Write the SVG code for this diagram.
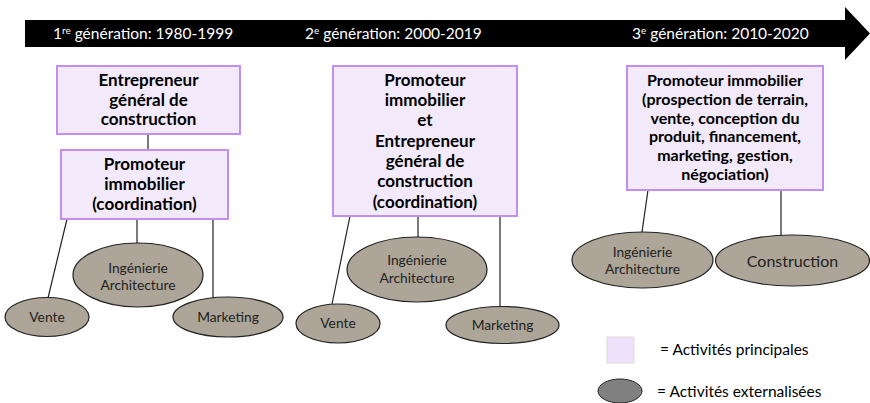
<svg xmlns="http://www.w3.org/2000/svg" width="870" height="403" viewBox="0 0 870 403">
  <style>
    text { font-family: "Lato", "Open Sans", "DejaVu Sans", sans-serif; fill: #000; }
    .hdr { font-size: 15.5px; fill: #fff; }
    .hdr tspan.sup { font-size: 10px; }
    .box { fill: #F2E9FA; stroke: #C48EEF; stroke-width: 2; }
    .bt { font-size: 17px; font-weight: bold; text-anchor: middle; }
    .bt3 { font-size: 16px; font-weight: bold; text-anchor: middle; }
    .ell { fill: #ADA597; stroke: #222; stroke-width: 1.2; }
    .et { font-size: 13.8px; text-anchor: middle; fill: #222; }
    .conn line { stroke: #222; stroke-width: 1.2; }
    .leg { font-size: 15.5px; }
  </style>

  <!-- timeline arrow -->
  <g id="timeline">
    <polygon points="25,20 845,20 845,7 870,33.5 845,60 845,47 25,47" fill="#000"/>
    <text class="hdr" x="53" y="39">1<tspan class="sup" dy="-5">re</tspan><tspan dy="5"> génération: 1980-1999</tspan></text>
    <text class="hdr" x="305" y="39">2<tspan class="sup" dy="-5">e</tspan><tspan dy="5"> génération: 2000-2019</tspan></text>
    <text class="hdr" x="632" y="39">3<tspan class="sup" dy="-5">e</tspan><tspan dy="5"> génération: 2010-2020</tspan></text>
  </g>

  <!-- connectors -->
  <g id="connectors" class="conn">
    <line x1="148" y1="134" x2="148" y2="150"/>
    <line x1="67" y1="219" x2="48" y2="298"/>
    <line x1="137" y1="219" x2="137" y2="243"/>
    <line x1="213" y1="219" x2="213" y2="298"/>
    <line x1="350" y1="216" x2="332" y2="304"/>
    <line x1="418" y1="216" x2="418" y2="237"/>
    <line x1="500" y1="216" x2="500" y2="307"/>
    <line x1="648" y1="190" x2="642" y2="232"/>
    <line x1="781" y1="190" x2="781" y2="235"/>
  </g>

  <!-- 1st generation -->
  <g id="entrepreneur1">
    <rect class="box" x="57" y="66" width="183" height="68"/>
    <text class="bt" x="148.5" y="86">Entrepreneur</text>
    <text class="bt" x="148.5" y="106">général de</text>
    <text class="bt" x="148.5" y="125">construction</text>
  </g>
  <g id="promoteur1">
    <rect class="box" x="61" y="150" width="167" height="69"/>
    <text class="bt" x="144.5" y="170">Promoteur</text>
    <text class="bt" x="144.5" y="190">immobilier</text>
    <text class="bt" x="144.5" y="210">(coordination)</text>
  </g>
  <g id="ingenierie1">
    <ellipse class="ell" cx="138" cy="275" rx="65" ry="32"/>
    <text class="et" x="138" y="273">Ingénierie</text>
    <text class="et" x="138" y="290">Architecture</text>
  </g>
  <g id="vente1">
    <ellipse class="ell" cx="47" cy="317" rx="42" ry="19.5"/>
    <text class="et" x="47" y="322">Vente</text>
  </g>
  <g id="marketing1">
    <ellipse class="ell" cx="228" cy="317" rx="55" ry="20"/>
    <text class="et" x="228" y="322">Marketing</text>
  </g>

  <!-- 2nd generation -->
  <g id="promoteur2">
    <rect class="box" x="333" y="66" width="184" height="150"/>
    <text class="bt" x="425" y="86">Promoteur</text>
    <text class="bt" x="425" y="106">immobilier</text>
    <text class="bt" x="425" y="126">et</text>
    <text class="bt" x="425" y="147">Entrepreneur</text>
    <text class="bt" x="425" y="167">général de</text>
    <text class="bt" x="425" y="187">construction</text>
    <text class="bt" x="425" y="208">(coordination)</text>
  </g>
  <g id="ingenierie2">
    <ellipse class="ell" cx="417" cy="269.5" rx="70" ry="32.5"/>
    <text class="et" x="417" y="265">Ingénierie</text>
    <text class="et" x="417" y="283">Architecture</text>
  </g>
  <g id="vente2">
    <ellipse class="ell" cx="338" cy="323.5" rx="42" ry="19.5"/>
    <text class="et" x="338" y="328">Vente</text>
  </g>
  <g id="marketing2">
    <ellipse class="ell" cx="502.5" cy="325" rx="56.5" ry="18.5"/>
    <text class="et" x="502.5" y="330">Marketing</text>
  </g>

  <!-- 3rd generation -->
  <g id="promoteur3">
    <rect class="box" x="627" y="66" width="196" height="124"/>
    <text class="bt3" x="725" y="86">Promoteur immobilier</text>
    <text class="bt3" x="725" y="104.8">(prospection de terrain,</text>
    <text class="bt3" x="725" y="123.6">vente, conception du</text>
    <text class="bt3" x="725" y="142.4">produit, financement,</text>
    <text class="bt3" x="725" y="161.2">marketing, gestion,</text>
    <text class="bt3" x="725" y="180">négociation)</text>
  </g>
  <g id="ingenierie3">
    <ellipse class="ell" cx="642.5" cy="260" rx="70.5" ry="28"/>
    <text class="et" x="642.5" y="257">Ingénierie</text>
    <text class="et" x="642.5" y="274">Architecture</text>
  </g>
  <g id="construction3">
    <ellipse class="ell" cx="792.5" cy="260.5" rx="77" ry="25.5"/>
    <text class="et" x="792.5" y="267" style="font-size:16px">Construction</text>
  </g>

  <!-- legend -->
  <g id="legend">
    <rect x="607" y="337" width="27" height="26" fill="#EEE2FA" stroke="#E2DADA" stroke-width="1"/>
    <text class="leg" x="660" y="355">= Activités principales</text>
    <ellipse cx="620" cy="391" rx="22" ry="12" fill="#808080" stroke="#222" stroke-width="1"/>
    <text class="leg" x="657" y="397">= Activités externalisées</text>
  </g>
</svg>
